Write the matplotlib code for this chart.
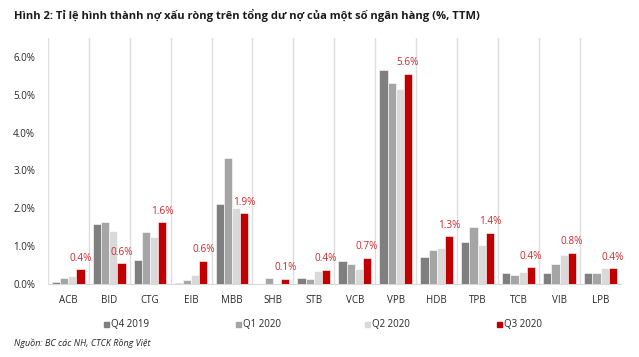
import matplotlib
matplotlib.use("Agg")
import matplotlib.pyplot as plt
import numpy as np
from matplotlib.patches import Rectangle

banks = ["ACB", "BID", "CTG", "EIB", "MBB", "SHB", "STB", "VCB", "VPB", "HDB", "TPB", "TCB", "VIB", "LPB"]
series_names = ["Q4 2019", "Q1 2020", "Q2 2020", "Q3 2020"]
q4_2019 = [0.04, 1.58, 0.63, 0.03, 2.12, 0.00, 0.16, 0.61, 5.66, 0.72, 1.12, 0.28, 0.30, 0.28]
q1_2020 = [0.16, 1.63, 1.38, 0.10, 3.32, 0.16, 0.13, 0.52, 5.30, 0.89, 1.50, 0.25, 0.54, 0.28]
q2_2020 = [0.21, 1.40, 1.25, 0.25, 2.01, 0.01, 0.35, 0.40, 5.14, 0.94, 1.03, 0.33, 0.76, 0.42]
q3_2020 = [0.39, 0.55, 1.63, 0.62, 1.87, 0.14, 0.37, 0.70, 5.56, 1.26, 1.36, 0.44, 0.82, 0.42]
colors = ["#7f7f7f", "#a5a5a5", "#d9d9d9", "#c00000"]

plt.rcParams['font.family'] = ['Open Sans', 'DejaVu Sans']

fig = plt.figure(figsize=(6.39, 3.57), dpi=100)
ax = fig.add_axes([47.7/639, (357-284)/357, (621-47.7)/639, (284-38)/357])

x = np.arange(len(banks))
w = 0.2
data = [q4_2019, q1_2020, q2_2020, q3_2020]
for i, (vals, c, name) in enumerate(zip(data, colors, series_names)):
    ax.bar(x + (i - 1.5) * w, vals, width=w, color=c, edgecolor="white", linewidth=0.4, label=name, zorder=3)

for xi, v in zip(x, q3_2020):
    ax.annotate(f"{v:.1f}%", (xi + 1.5 * w, v), xytext=(0, 4), textcoords="offset points",
                ha="center", va="bottom", color="#d0282a", fontsize=7.2)

for b in np.arange(len(banks)) - 0.5:
    ax.axvline(b, color="#dedede", linewidth=1.0, zorder=1)

ax.set_xlim(-0.5, len(banks) - 0.5)
ax.set_ylim(0, 6.5)
ax.set_yticks(np.arange(0, 7, 1.0))
ax.set_yticklabels([f"{t:.1f}%" for t in np.arange(0, 7, 1.0)], fontsize=7)
ax.set_xticks(x)
ax.set_xticklabels(banks, fontsize=7)
ax.tick_params(axis="both", length=0, pad=8, colors="#262626")
ax.tick_params(axis="y", pad=9)
for s in ["top", "right", "left"]:
    ax.spines[s].set_visible(False)
ax.spines["bottom"].set_color("#d9d9d9")

fig.text(14/639, 1 - 15/357, "Hình 2: Tỉ lệ hình thành nợ xấu ròng trên tổng dư nợ của một số ngân hàng (%, TTM)",
         fontsize=8, fontweight="bold", ha="left", va="center", color="#1a1a1a")

leg_x = [104, 236, 365, 497]
for lx, c, name in zip(leg_x, colors, series_names):
    fig.patches.append(Rectangle((lx/639, 1 - 327/357), 5/639, 5/357, transform=fig.transFigure, color=c))
    fig.text((lx + 7)/639, 1 - 324.5/357, name, fontsize=7, ha="left", va="center", color="#262626")

fig.text(14/639, 1 - 343/357, "Nguồn: BC các NH, CTCK Rồng Việt", fontsize=6.5, style="italic",
         ha="left", va="center", color="#262626")

fig.savefig("out.png", dpi=100)
